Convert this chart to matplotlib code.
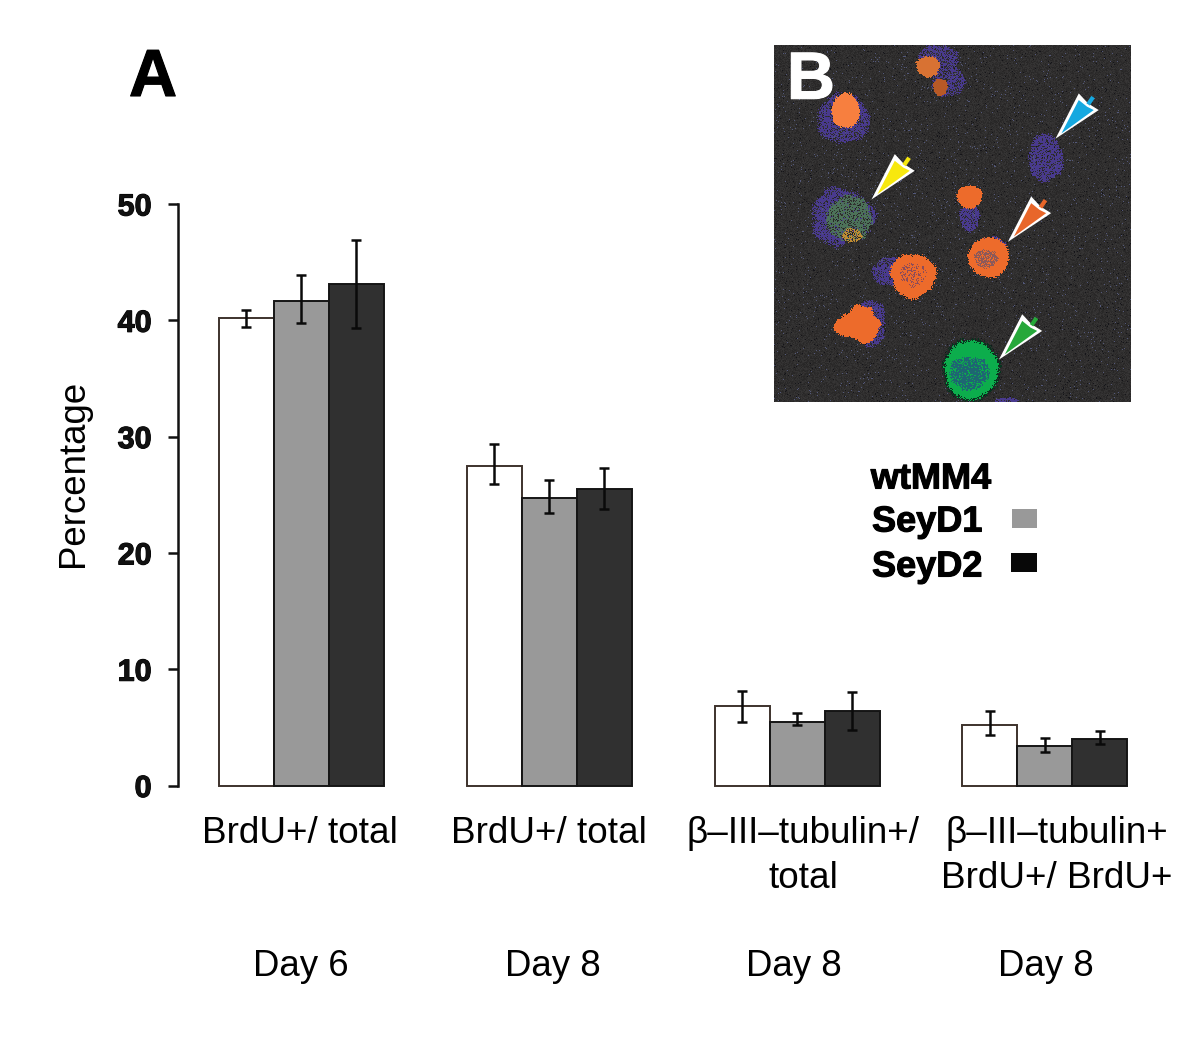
import numpy as np
import matplotlib
matplotlib.use("Agg")
import matplotlib.pyplot as plt
import matplotlib.patheffects as pe
from matplotlib.patches import Polygon, Rectangle

plt.rcParams['font.family'] = ['Liberation Sans', 'DejaVu Sans']

W, H = 1200, 1045

categories = ["BrdU+/ total", "BrdU+/ total", "β–III–tubulin+/\ntotal", "β–III–tubulin+\nBrdU+/ BrdU+"]
days = ["Day 6", "Day 8", "Day 8", "Day 8"]
series_names = ["wtMM4", "SeyD1", "SeyD2"]
wtmm4 = [40.2, 27.5, 6.8, 5.2]
seyd1 = [41.7, 24.7, 5.5, 3.4]
seyd2 = [43.1, 25.5, 6.4, 4.0]
wtmm4_low = [39.4, 25.9, 5.5, 4.3]
wtmm4_high = [40.9, 29.4, 8.1, 6.4]
seyd1_low = [39.8, 23.4, 5.2, 2.9]
seyd1_high = [43.9, 26.3, 6.2, 4.1]
seyd2_low = [39.3, 23.8, 4.8, 3.6]
seyd2_high = [46.9, 27.3, 8.0, 4.7]
y_ticks = [0, 10, 20, 30, 40, 50]


def fx(px):
    return px / W


def fy(py):
    return 1 - py / H


heavy = [pe.withStroke(linewidth=0.8, foreground='black')]
fig = plt.figure(figsize=(12, 10.45), dpi=100)

# main bar panel, axes placed from pixel positions
ax = fig.add_axes([fx(178), fy(785.5), fx(1140 - 178), (785.5 - 204) / H])
ax.patch.set_alpha(0)
group_x = np.arange(4) * 4.505
styles = [("white", "#3d322c"), ("#999999", "#151515"), ("#303030", "#151515")]
rows = [(wtmm4, wtmm4_low, wtmm4_high), (seyd1, seyd1_low, seyd1_high), (seyd2, seyd2_low, seyd2_high)]
for i, (vals, low, high) in enumerate(rows):
    x = group_x + i + 0.5
    vals = np.array(vals)
    ax.bar(x, vals, width=1.0, color=styles[i][0], edgecolor=styles[i][1], linewidth=1.4, clip_on=False)
    err = [vals - np.array(low), np.array(high) - vals]
    ax.errorbar(x, vals, yerr=err, fmt='none', ecolor='#0a0a0a', elinewidth=1.8, capsize=3.8, capthick=1.8)

ax.set_xlim(-0.745, 16.745)
ax.set_ylim(0, 50)
ax.set_xticks([])
ax.set_yticks(y_ticks)
ax.tick_params(axis='y', length=7.5, width=1.8, pad=11.5, color='#111111')
for lab in ax.get_yticklabels():
    lab.set_fontsize(22)
    lab.set_fontweight('bold')
    lab.set_color('#111111')
    lab.set_path_effects(heavy)
for side in ['top', 'right', 'bottom']:
    ax.spines[side].set_visible(False)
ax.spines['left'].set_linewidth(1.8)
ax.spines['left'].set_color('#111111')

fig.text(fx(73), fy(473), "Percentage", rotation=90, ha='center', va='center', fontsize=26.4)
fig.text(fx(153), fy(79), "A", ha='center', va='center', fontsize=48, fontweight='bold', color='black',
         path_effects=[pe.withStroke(linewidth=0.8, foreground='black')])

cat_px = [300, 549, 803, 1057]
day_px = [301, 553, 794, 1046]
for name, px in zip(categories, cat_px):
    fig.text(fx(px), fy(816), name, ha='center', va='top', fontsize=26.6, linespacing=1.37)
for name, px in zip(days, day_px):
    fig.text(fx(px), fy(967), name, ha='center', va='center', fontsize=26.4)

# legend is hand placed in the original, wtMM4 has no visible swatch
fig.text(fx(931), fy(479), series_names[0], ha='center', va='center', fontsize=26, fontweight='bold', path_effects=heavy)
fig.text(fx(872), fy(522), series_names[1], ha='left', va='center', fontsize=26, fontweight='bold', path_effects=heavy)
fig.text(fx(872), fy(567), series_names[2], ha='left', va='center', fontsize=26, fontweight='bold', path_effects=heavy)
fig.add_artist(Rectangle((fx(1012), fy(528)), 25 / W, 19 / H, transform=fig.transFigure, color='#999999', lw=0))
fig.add_artist(Rectangle((fx(1011), fy(572)), 26 / W, 19 / H, transform=fig.transFigure, color='#080808', lw=0))

# micrograph panel, painted as a raster in the coords of the zoomed crop
N = 357
gx, gy = np.meshgrid(np.linspace(12, 1085, N), np.linspace(15, 1085, N))


def speckle(a, b):
    v = np.sin(gx * a + gy * b) * 43758.5453
    return v - np.floor(v)


n1 = speckle(12.9898, 78.233)
n2 = speckle(39.346, 11.135)
img = np.zeros((N, N, 3)) + np.array([0.185, 0.18, 0.18])
img += (n1[..., None] - 0.5) * 0.07
img[n2 > 0.985] = [0.33, 0.35, 0.48]
img[n1 < 0.02] = [0.08, 0.08, 0.1]


def blob(cx, cy, rx, ry, color, density=1.0, wobble=0.05):
    ang = np.arctan2(gy - cy, gx - cx)
    r = np.sqrt(((gx - cx) / rx) ** 2 + ((gy - cy) / ry) ** 2)
    edge = 1 + wobble * np.sin(3 * ang + cx) + wobble * 0.6 * np.sin(7 * ang + cy)
    mask = (r < edge + (n1 - 0.5) * 0.14) & (n2 < density)
    img[mask] = np.array(color)


purple = (0.29, 0.23, 0.56)
orange = (0.93, 0.42, 0.17)
peach = (0.97, 0.5, 0.25)
green = (0.05, 0.68, 0.3)

blob(220, 235, 78, 75, purple, 0.7)
blob(226, 212, 42, 52, peach, wobble=0.03)
blob(505, 60, 60, 48, purple, 0.65)
blob(535, 120, 50, 50, purple, 0.6)
blob(475, 78, 35, 32, (0.85, 0.45, 0.2))
blob(512, 140, 22, 25, (0.72, 0.35, 0.15))
blob(830, 355, 52, 72, purple, 0.75)
blob(215, 530, 95, 85, purple, 0.75, 0.08)
blob(238, 535, 68, 68, (0.3, 0.45, 0.35), 0.7)
blob(245, 585, 30, 22, (0.75, 0.55, 0.2), 0.6)
blob(600, 530, 30, 42, purple, 0.75)
blob(600, 470, 38, 35, orange)
blob(665, 625, 50, 35, purple, 0.85)
blob(658, 652, 62, 60, orange, wobble=0.02)
blob(650, 655, 35, 28, (0.55, 0.35, 0.35), 0.6)
blob(365, 695, 60, 42, purple, 0.7)
blob(430, 707, 68, 66, orange)
blob(430, 705, 40, 35, (0.55, 0.3, 0.35), 0.25)
blob(300, 850, 48, 70, purple, 0.7)
blob(270, 850, 60, 50, orange, wobble=0.1)
blob(225, 860, 32, 30, orange)
blob(285, 892, 25, 20, orange)
blob(605, 990, 86, 94, (0.03, 0.2, 0.12), wobble=0.02)
blob(605, 990, 80, 88, green, wobble=0.02)
blob(600, 1000, 60, 50, (0.12, 0.4, 0.45), 0.75)
blob(715, 1085, 35, 12, purple, 0.8)
img = np.clip(img, 0, 1)

bx = fig.add_axes([fx(774), fy(402), 357 / W, 357 / H])
bx.imshow(img, extent=(12, 1085, 1085, 15), aspect='auto', interpolation='bilinear')
bx.set_xlim(12, 1085)
bx.set_ylim(1085, 15)
bx.axis('off')

arrow_tips = [(305, 478), (858, 296), (715, 605), (688, 958)]
arrow_colors = ['#f7e80e', '#15a8e0', '#e8662a', '#27a83a']
for (tx, ty), col in zip(arrow_tips, arrow_colors):
    # same arrow shape for each, offsets from the tip
    outer = [(tx, ty), (tx + 70, ty - 136), (tx + 98, ty - 106), (tx + 130, ty - 86)]
    inner = [(tx + 18, ty - 16), (tx + 70, ty - 116), (tx + 95, ty - 96), (tx + 115, ty - 86)]
    bx.plot([tx + 98, tx + 113], [ty - 103, ty - 125], color=col, lw=3, solid_capstyle='butt')
    bx.add_patch(Polygon(outer, closed=True, fc='white', ec='none'))
    bx.add_patch(Polygon(inner, closed=True, fc=col, ec='none'))

bx.text(123, 125, "B", ha='center', va='center', fontsize=48, fontweight='bold', color='white',
        path_effects=[pe.withStroke(linewidth=0.8, foreground='white')])

fig.savefig("out.png", dpi=100, facecolor='white')
